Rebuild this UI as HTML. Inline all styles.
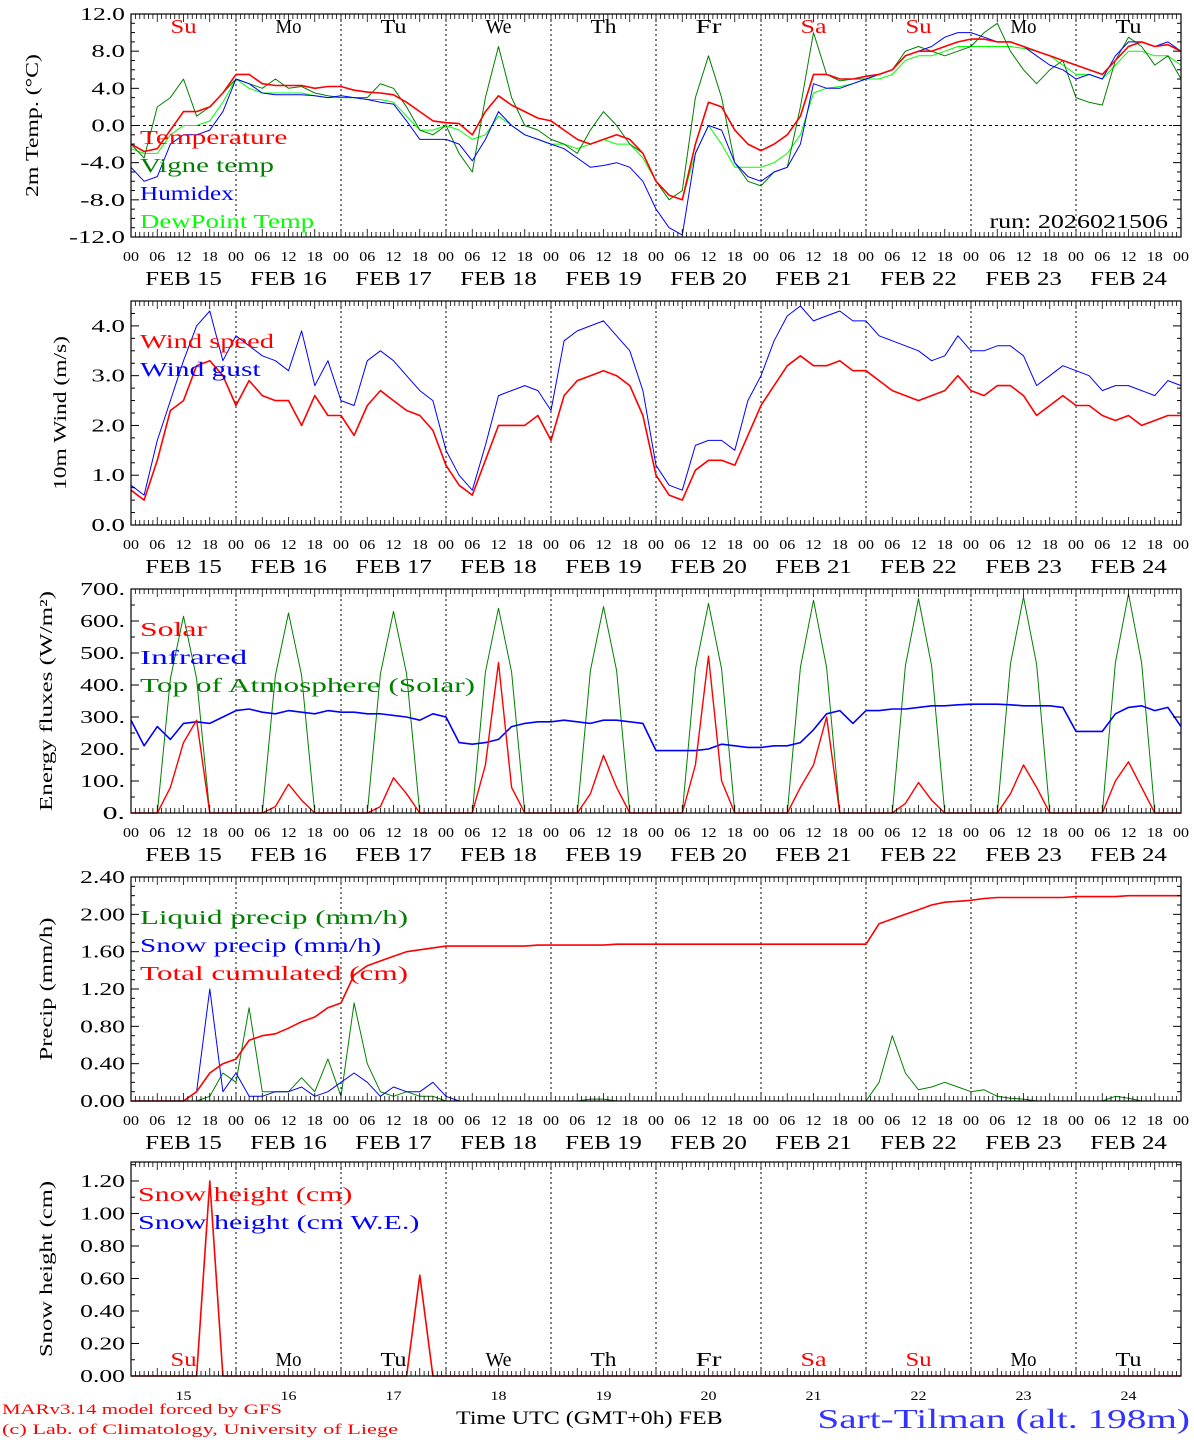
<!DOCTYPE html>
<html><head><meta charset="utf-8">
<style>
html,body{margin:0;padding:0;background:#fff;}
svg{display:block;font-family:"Liberation Serif","DejaVu Serif",serif;}
</style></head>
<body>
<svg id="chart" width="1194" height="1440" viewBox="0 0 1194 1440" xmlns="http://www.w3.org/2000/svg"></svg>
<script>
// ---- data (3-hourly, Feb 15 00UTC to Feb 25 00UTC) ----
const dates = ["FEB 15","FEB 16","FEB 17","FEB 18","FEB 19","FEB 20","FEB 21","FEB 22","FEB 23","FEB 24"];
const dayNames = ["Su","Mo","Tu","We","Th","Fr","Sa","Su","Mo","Tu"];
const dayNums = ["15","16","17","18","19","20","21","22","23","24"];
const hourLabels = ["00","06","12","18"];

const temp = [-2,-2.8,-2.5,-0.5,1.5,1.5,2,3.5, 5.5,5.5,4.5,4.3,4.3,4.3,4,4.2, 4.2,3.8,3.6,3.5,3.3,2.5,1.5,0.5, 0.3,0.2,-1,1.5,3.2,2.2,1.5,0.8, 0.5,-0.5,-1.5,-2,-1.5,-1,-1.5,-3, -6,-7.5,-8,-2,2.5,2,-0.5,-2, -2.7,-2,-1,1,5.5,5.5,5,5, 5.3,5.5,6,7.5,8,8,8.5,9, 9.3,9.3,9,9,8.5,8,7.5,7, 6.5,6,5.5,7,8.5,9,8.5,8.7, 8];
const vigne = [-2,-3.5,2,3,5,1,2,3.5, 5,4.5,4,5,4,4.2,3.5,3.2, 3,3,3,4.5,4,2,-0.5,-1, 0,-3,-5,3,8.5,3,0,-0.5, -1.5,-2,-3,-0.5,1.5,0,-2,-3, -6,-8,-7,3,7.5,3,-4,-6, -6.5,-5,-4.5,2,10,5.5,4.8,5, 5,5.5,6,8,8.5,8,7.5,8, 8.5,10,11,8,6,4.5,6,7, 3,2.5,2.2,7,9.5,8.5,6.5,7.5, 5];
const humidex = [-4.5,-6,-5.5,-2,-1,-1,-0.5,1.5, 5,4.5,3.5,3.3,3.3,3.3,3.2,3, 3.2,3,2.8,2.5,2.3,0.5,-1.5,-1.5, -1.5,-2,-3.8,-1.5,1.5,0,-1,-1.5, -2,-2.5,-3.5,-4.5,-4.3,-4,-4.5,-6, -9,-11,-11.8,-3,0,-0.5,-4,-5.5, -6,-5,-4.5,-2,4.5,4,4,4.5, 5,5.5,6,7.5,8,8.5,9.5,10, 10,9.5,9,9,8.5,7.5,6.5,6, 5,5.5,5,7.5,9,9,8.5,9, 8];
const dewpoint = [-2.5,-3,-3,-1,0,0,0.5,2.5, 5,4,3.5,3.5,3.5,3.5,3.2,3, 3,3,2.8,2.8,2.5,1,-0.5,-0.5, 0,-0.5,-1.5,-1,1,0,-1,-1.5, -2,-2,-2.5,-2,-1.5,-2,-2,-3.5, -6,-7.5,-8,-3,0,-2,-4.5,-4.5, -4.5,-4,-3,-1,3.5,4,4.2,4.5, 5,5,5.5,7,7.5,7.5,8,8.5, 8.5,8.5,8.5,8.5,8.3,8,7.5,6.5, 5.5,5.5,5,6.5,8,8,7.5,7.5, 6.5];

const windSpeed = [0.7,0.5,1.3,2.3,2.5,3.2,3.3,3.0, 2.4,2.9,2.6,2.5,2.5,2.0,2.6,2.2, 2.2,1.8,2.4,2.7,2.5,2.3,2.2,1.9, 1.2,0.8,0.6,1.3,2.0,2.0,2.0,2.2, 1.7,2.6,2.9,3.0,3.1,3.0,2.8,2.2, 1.0,0.6,0.5,1.1,1.3,1.3,1.2,1.8, 2.4,2.8,3.2,3.4,3.2,3.2,3.3,3.1, 3.1,2.9,2.7,2.6,2.5,2.6,2.7,3.0, 2.7,2.6,2.8,2.8,2.6,2.2,2.4,2.6, 2.4,2.4,2.2,2.1,2.2,2.0,2.1,2.2, 2.2];
const windGust = [0.8,0.6,1.7,2.5,3.3,4.0,4.3,3.3, 3.8,3.6,3.4,3.3,3.1,3.9,2.8,3.3, 2.5,2.4,3.3,3.5,3.3,3.0,2.7,2.5, 1.5,1.0,0.7,1.6,2.6,2.7,2.8,2.7, 2.3,3.7,3.9,4.0,4.1,3.8,3.5,2.7, 1.2,0.8,0.7,1.6,1.7,1.7,1.5,2.5, 3.0,3.7,4.2,4.4,4.1,4.2,4.3,4.1, 4.1,3.8,3.7,3.6,3.5,3.3,3.4,3.8, 3.5,3.5,3.6,3.6,3.4,2.8,3.0,3.2, 3.1,3.0,2.7,2.8,2.8,2.7,2.6,2.9, 2.8];

const solar = [0,0,0,80,220,290,0,0, 0,0,0,20,90,40,0,0, 0,0,0,20,110,60,0,0, 0,0,0,150,470,80,0,0, 0,0,0,60,180,80,0,0, 0,0,0,150,490,100,0,0, 0,0,0,80,150,300,0,0, 0,0,0,30,95,40,0,0, 0,0,0,60,150,80,0,0, 0,0,0,100,160,80,0,0, 0];
const infrared = [290,210,270,230,280,285,280,300, 320,325,315,310,320,315,310,320, 315,315,310,310,305,300,290,310, 300,220,215,220,230,270,280,285, 285,290,285,280,290,290,285,280, 195,195,195,195,200,215,210,205, 205,210,210,220,260,310,320,280, 320,320,325,325,330,335,335,338, 340,340,340,338,335,335,335,330, 255,255,255,310,330,335,320,330, 270];
const toa = [0,0,0,420,615,420,0,0, 0,0,0,430,625,430,0,0, 0,0,0,435,630,435,0,0, 0,0,0,440,640,440,0,0, 0,0,0,445,645,445,0,0, 0,0,0,450,655,450,0,0, 0,0,0,455,665,455,0,0, 0,0,0,460,670,460,0,0, 0,0,0,465,675,465,0,0, 0,0,0,470,685,470,0,0, 0];

const liquid = [0,0,0,0,0,0,0.05,0.3, 0.2,1.0,0.1,0.1,0.1,0.25,0.1,0.45, 0.05,1.05,0.4,0.1,0.05,0.1,0.05,0.05, 0,0,0,0,0,0,0,0, 0,0,0,0.02,0.02,0,0,0, 0,0,0,0,0,0,0,0, 0,0,0,0,0,0,0,0, 0,0.2,0.7,0.3,0.12,0.15,0.2,0.15, 0.1,0.12,0.05,0.03,0.02,0,0,0, 0,0,0,0.05,0.03,0,0,0, 0];
const snowPrecip = [0,0,0,0,0,0.1,1.2,0.1, 0.3,0.05,0.05,0.1,0.1,0.15,0.05,0.1, 0.2,0.3,0.2,0.05,0.15,0.1,0.1,0.2, 0.05,0,0,0,0,0,0,0, 0,0,0,0,0,0,0,0, 0,0,0,0,0,0,0,0, 0,0,0,0,0,0,0,0, 0,0,0,0,0,0,0,0, 0,0,0,0,0,0,0,0, 0,0,0,0,0,0,0,0, 0];
const totalCum = [0,0,0,0,0,0.1,0.3,0.4, 0.45,0.65,0.7,0.72,0.78,0.85,0.9,1.0, 1.05,1.35,1.45,1.5,1.55,1.6,1.62,1.64, 1.66,1.66,1.66,1.66,1.66,1.66,1.66,1.67, 1.67,1.67,1.67,1.67,1.67,1.68,1.68,1.68, 1.68,1.68,1.68,1.68,1.68,1.68,1.68,1.68, 1.68,1.68,1.68,1.68,1.68,1.68,1.68,1.68, 1.68,1.9,1.95,2.0,2.05,2.1,2.13,2.14, 2.15,2.17,2.18,2.18,2.18,2.18,2.18,2.18, 2.19,2.19,2.19,2.19,2.2,2.2,2.2,2.2, 2.2];
const snowHeight = [0,0,0,0,0,0,1.2,0, 0,0,0,0,0,0,0,0, 0,0,0,0,0,0,0.62,0, 0,0,0,0,0,0,0,0, 0,0,0,0,0,0,0,0, 0,0,0,0,0,0,0,0, 0,0,0,0,0,0,0,0, 0,0,0,0,0,0,0,0, 0,0,0,0,0,0,0,0, 0,0,0,0,0,0,0,0, 0];
const snowWE = [0,0,0,0,0,0,0,0, 0,0,0,0,0,0,0,0, 0,0,0,0,0,0,0,0, 0,0,0,0,0,0,0,0, 0,0,0,0,0,0,0,0, 0,0,0,0,0,0,0,0, 0,0,0,0,0,0,0,0, 0,0,0,0,0,0,0,0, 0,0,0,0,0,0,0,0, 0,0,0,0,0,0,0,0, 0];

// ---- drawing ----
const NS = "http://www.w3.org/2000/svg";
const svg = document.getElementById("chart");
const X0 = 131, X1 = 1181, HOURS = 240, STEP = 3;
function xScale(h){ return X0 + (X1 - X0) * h / HOURS; }
function mk(tag, attrs, parent){
  const e = document.createElementNS(NS, tag);
  for (const k in attrs) e.setAttribute(k, attrs[k]);
  (parent || svg).appendChild(e);
  return e;
}
function txt(s, x, y, size, fill, anchor, parent, cw){
  const t = mk("text", {x:x, y:y, "font-size":size, fill:fill||"#000", "text-anchor":anchor||"start",
    textLength:(s.length*(cw||0.68*size)).toFixed(1), lengthAdjust:"spacingAndGlyphs"}, parent);
  t.textContent = s;
  return t;
}

const panels = [
  {name:"temperature-panel", top:14, bot:237, min:-12, max:12, ticks:[-12,-8,-4,0,4,8,12], fmt:v=>v.toFixed(1), minor:1, title:"2m Temp. (°C)", tx:38, zero:true,
   series:[{d:dewpoint,c:"#00ff00",n:"dewpoint-line"},{d:vigne,c:"#008000",n:"vigne-temp-line"},{d:humidex,c:"#0000ff",n:"humidex-line"},{d:temp,c:"#ff0000",n:"temperature-line",w:1.6}],
   legend:[["Temperature","#ff0000"],["Vigne temp","#008000"],["Humidex","#0000ff"],["DewPoint Temp","#00ff00"]], ly:144, lx:140},
  {name:"wind-panel", top:301, bot:525, min:0, max:4.5, ticks:[0,1,2,3,4], fmt:v=>v.toFixed(1), minor:0.25, title:"10m Wind (m/s)", tx:66,
   series:[{d:windGust,c:"#0000ff",n:"wind-gust-line"},{d:windSpeed,c:"#ff0000",n:"wind-speed-line",w:1.6}],
   legend:[["Wind speed","#ff0000"],["Wind gust","#0000ff"]], ly:348, lx:140},
  {name:"energy-panel", top:589, bot:813, min:0, max:700, ticks:[0,100,200,300,400,500,600,700], fmt:v=>v+".", minor:50, title:"Energy fluxes (W/m²)", tx:52,
   series:[{d:toa,c:"#008000",n:"toa-solar-line"},{d:infrared,c:"#0000ff",n:"infrared-line",w:1.6},{d:solar,c:"#ff0000",n:"solar-line",w:1.4}],
   legend:[["Solar","#ff0000"],["Infrared","#0000ff"],["Top of Atmosphere (Solar)","#008000"]], ly:636, lx:140},
  {name:"precip-panel", top:877, bot:1101, min:0, max:2.4, ticks:[0,0.4,0.8,1.2,1.6,2.0,2.4], fmt:v=>v.toFixed(2), minor:0.1, title:"Precip (mm/h)", tx:52,
   series:[{d:liquid,c:"#008000",n:"liquid-precip-line"},{d:snowPrecip,c:"#0000ff",n:"snow-precip-line"},{d:totalCum,c:"#ff0000",n:"total-cumulated-line",w:1.6}],
   legend:[["Liquid precip (mm/h)","#008000"],["Snow precip (mm/h)","#0000ff"],["Total cumulated (cm)","#ff0000"]], ly:924, lx:140},
  {name:"snow-panel", top:1162, bot:1376, min:0, max:1.3167, ticks:[0,0.2,0.4,0.6,0.8,1.0,1.2], fmt:v=>v.toFixed(2), minor:0.1, title:"Snow height (cm)", tx:52,
   series:[{d:snowWE,c:"#0000ff",n:"snow-we-line"},{d:snowHeight,c:"#ff0000",n:"snow-height-line",w:1.6}],
   legend:[["Snow height (cm)","#ff0000"],["Snow height (cm W.E.)","#0000ff"]], ly:1201, lx:138, last:true}
];

panels.forEach((p, pi) => {
  const g = mk("g", {});
  
  
  const yS = v => p.bot - (p.bot - p.top) * (v - p.min) / (p.max - p.min);
  for (let d = 1; d < 10; d++) {
    const l = mk("line", {x1:xScale(d*24), x2:xScale(d*24), y1:p.top, y2:p.bot, stroke:"#000", "stroke-width":1, "stroke-dasharray":"2,3"}, g);
    
    
  }
  if (p.zero) {
    const z = mk("line", {x1:X0, x2:X1, y1:yS(0), y2:yS(0), stroke:"#000", "stroke-dasharray":"3,3"}, g);
    
    
  }
  p.series.forEach(s => {
    const pts = s.d.map((v, i) => xScale(i*STEP).toFixed(1) + "," + yS(v).toFixed(1)).join(" ");
    const pl = mk("polyline", {points:pts, fill:"none", stroke:s.c, "stroke-width":s.w||1, "stroke-linejoin":"round"}, g);
    
    
  });
  const fr = mk("rect", {x:X0, y:p.top, width:X1-X0, height:p.bot-p.top, fill:"none", stroke:"#000", "stroke-width":1.2}, g);
  
  
  for (let h = 0; h <= HOURS; h += 1) {
    const len = h % 6 === 0 ? 8 : 5;
    mk("line", {x1:xScale(h), x2:xScale(h), y1:p.bot, y2:p.bot-len, stroke:"#000", "stroke-width":0.8}, g);
    mk("line", {x1:xScale(h), x2:xScale(h), y1:p.top, y2:p.top+len, stroke:"#000", "stroke-width":0.8}, g);
  }
  for (let v = p.min; v <= p.max + 1e-6; v += p.minor) {
    const major = p.ticks.some(t => Math.abs(t - v) < 1e-6);
    const len = major ? 8 : 4;
    mk("line", {x1:X0, x2:X0+len, y1:yS(v), y2:yS(v), stroke:"#000"}, g);
    mk("line", {x1:X1, x2:X1-len, y1:yS(v), y2:yS(v), stroke:"#000"}, g);
  }
  p.ticks.forEach(t => {
    const lb = txt(p.fmt(t), X0-6, yS(t)+6, 18, "#000", "end", g, 11.2);
    
    
  });
  const tt = mk("text", {x:0, y:0, "font-size":18, "text-anchor":"middle", textLength:(p.title.length*11).toFixed(0), lengthAdjust:"spacingAndGlyphs", transform:`translate(${p.tx},${(p.top+p.bot)/2}) rotate(-90)`}, g);
  tt.textContent = p.title;
  
  
  p.legend.forEach((L, i) => {
    const lt = txt(L[0], p.lx, p.ly + i*28, 20, L[1], "start", g, 13.4);
    
    
  });
  if (!p.last) {
    for (let d = 0; d <= 10; d++) {
      hourLabels.forEach((hl, k) => {
        if (d === 10 && k > 0) return;
        const ht = txt(hl, xScale(d*24 + k*6), p.bot+24, 14, "#000", "middle", g, 8);
        
        
      });
    }
    dates.forEach((dt, d) => {
      const dl = txt(dt, xScale(d*24+12), p.bot+48, 20, "#000", "middle", g, 12.8);
      
      
    });
  } else {
    dates.forEach((dt, d) => {
      const dn = txt(dayNums[d], xScale(d*24+12), p.bot+24, 13, "#000", "middle", g, 8);
      
      
    });
  }
  if (pi === 0 || p.last) {
    dayNames.forEach((dn, d) => {
      const col = (dn === "Sa" || dn === "Su") ? "#ff0000" : "#000";
      const y = pi === 0 ? p.top + 19 : p.bot - 10;
      const t = txt(dn, xScale(d*24+12), y, 20, col, "middle", g, 13);
      
      
    });
  }
});

const run = txt("run: 2026021506", 1168, 228, 20, "#000", "end", null, 11.9);


const m1 = txt("MARv3.14 model forced by GFS", 2, 1414, 15, "#ff0000", "start", null, 10);


const m2 = txt("(c) Lab. of Climatology, University of Liege", 2, 1434, 15, "#ff0000", "start", null, 9);


const xt = txt("Time UTC (GMT+0h) FEB", 456, 1424, 19, "#000", "start", null, 12.7);


const st = txt("Sart-Tilman (alt. 198m)", 1190, 1428, 27, "#3333ff", "end", null, 16.2);


</script>
</body></html>
